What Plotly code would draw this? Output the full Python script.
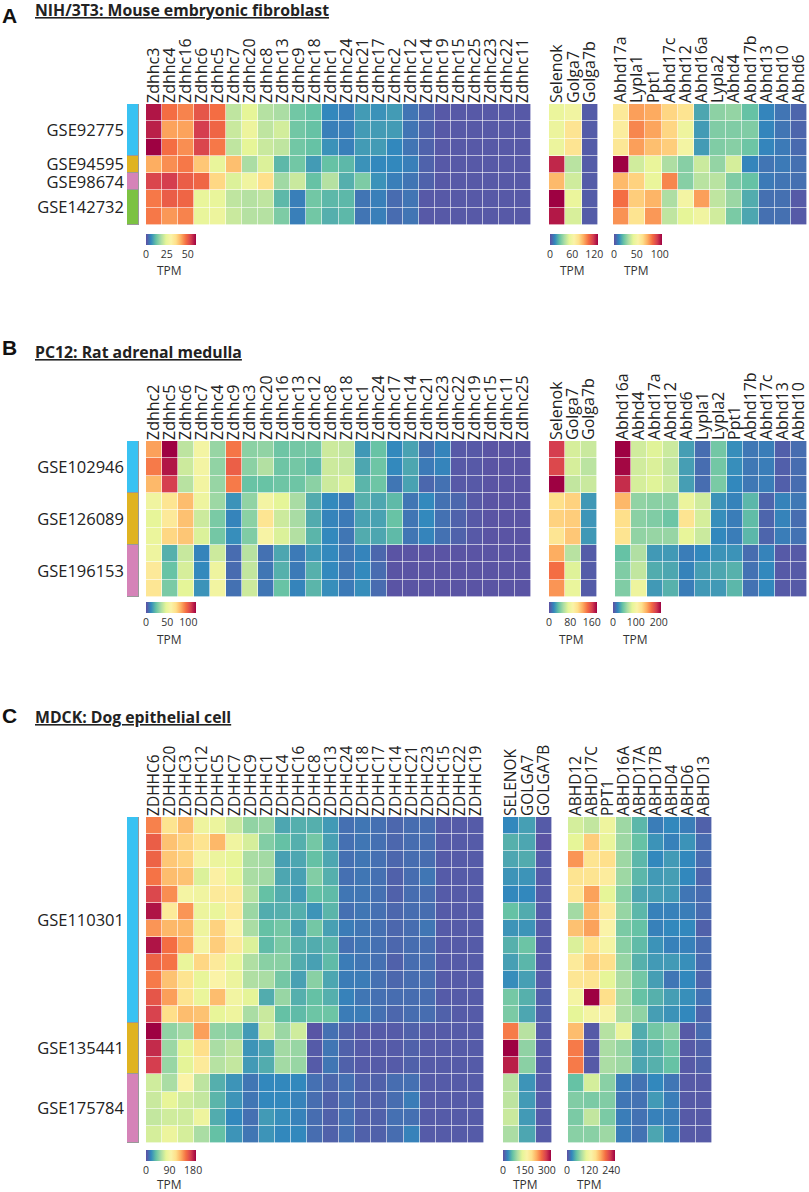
import plotly.graph_objects as go

W, H = 809, 1192
FONT = "Open Sans"
SPECTRAL = ["#5E4FA2", "#3288BD", "#66C2A5", "#ABDDA4", "#E6F598", "#FAF3A8",
            "#FEE08B", "#FDAE61", "#F46D43", "#D53E4F", "#9E0142"]

# ---------- Panel A ----------
A_GROUPS = ["GSE92775", "GSE94595", "GSE98674", "GSE142732"]
A_GROUP_SIZES = [3, 1, 1, 2]
A_ZDHHC_GENES = ["Zdhhc3", "Zdhhc4", "Zdhhc16", "Zdhhc6", "Zdhhc5", "Zdhhc7", "Zdhhc20", "Zdhhc8", "Zdhhc13",
                 "Zdhhc9", "Zdhhc18", "Zdhhc1", "Zdhhc24", "Zdhhc21", "Zdhhc17", "Zdhhc2", "Zdhhc12", "Zdhhc14",
                 "Zdhhc19", "Zdhhc15", "Zdhhc25", "Zdhhc23", "Zdhhc22", "Zdhhc11"]
A_ZDHHC_TPM = [
    [58, 48, 46, 51, 48, 20, 24, 19, 18, 13, 12, 6, 5, 8, 7, 8, 4, 2, 1, 1, 1, 1, 1, 1],
    [57, 43, 43, 54, 49, 21, 26, 20, 22, 13, 12, 5, 5, 8, 8, 8, 4, 2, 1, 1, 1, 1, 1, 1],
    [60, 48, 45, 53, 47, 20, 24, 21, 20, 13, 12, 7, 5, 8, 8, 6, 4, 2, 1, 1, 1, 1, 1, 1],
    [42, 45, 47, 39, 25, 40, 18, 23, 11, 13, 8, 12, 11, 7, 6, 6, 5, 2, 1, 1, 1, 1, 1, 1],
    [53, 54, 50, 49, 37, 23, 27, 36, 17, 21, 12, 19, 10, 14, 7, 5, 4, 2, 1, 1, 1, 1, 1, 1],
    [47, 50, 49, 25, 25, 20, 19, 20, 11, 5, 13, 11, 11, 4, 5, 3, 4, 1, 1, 1, 1, 1, 1, 1],
    [47, 44, 46, 25, 26, 21, 19, 19, 14, 5, 13, 10, 11, 4, 5, 3, 4, 1, 1, 1, 1, 1, 1, 1],
]
A_SEL_GENES = ["Selenok", "Golga7", "Golga7b"]
A_SEL_TPM = [[55, 59, 3], [56, 75, 3], [56, 75, 3], [122, 42, 3], [88, 47, 3], [130, 55, 3], [125, 49, 3]]
A_ABHD_GENES = ["Abhd17a", "Lypla1", "Ppt1", "Abhd17c", "Abhd12", "Abhd16a", "Lypla2", "Abhd4", "Abhd17b",
                "Abhd13", "Abhd10", "Abhd6"]
A_ABHD_TPM = [
    [58, 76, 74, 65, 61, 16, 27, 28, 21, 10, 7, 4],
    [56, 80, 75, 65, 46, 14, 25, 25, 25, 10, 7, 4],
    [59, 76, 70, 67, 49, 14, 25, 26, 22, 10, 8, 5],
    [105, 38, 44, 32, 26, 37, 28, 39, 10, 7, 8, 6],
    [71, 66, 44, 80, 26, 34, 34, 25, 21, 8, 7, 6],
    [84, 67, 72, 32, 49, 76, 35, 29, 17, 6, 6, 2],
    [78, 61, 77, 35, 42, 47, 38, 24, 16, 6, 6, 2],
]

# ---------- Panel B ----------
B_GROUPS = ["GSE102946", "GSE126089", "GSE196153"]
B_GROUP_SIZES = [3, 3, 3]
B_ZDHHC_GENES = ["Zdhhc2", "Zdhhc5", "Zdhhc6", "Zdhhc7", "Zdhhc4", "Zdhhc9", "Zdhhc3", "Zdhhc20", "Zdhhc16",
                 "Zdhhc13", "Zdhhc12", "Zdhhc8", "Zdhhc18", "Zdhhc1", "Zdhhc24", "Zdhhc17", "Zdhhc14", "Zdhhc21",
                 "Zdhhc23", "Zdhhc22", "Zdhhc19", "Zdhhc15", "Zdhhc11", "Zdhhc25"]
B_ZDHHC_TPM = [
    [85, 118, 39, 55, 32, 93, 30, 31, 25, 26, 26, 42, 40, 15, 24, 12, 17, 7, 11, 2, 2, 1, 1, 1],
    [92, 114, 42, 55, 31, 98, 30, 37, 25, 26, 22, 42, 41, 18, 25, 12, 18, 9, 11, 2, 2, 1, 1, 1],
    [80, 106, 38, 54, 32, 92, 24, 24, 25, 25, 30, 42, 45, 21, 25, 8, 17, 5, 7, 2, 2, 1, 1, 1],
    [53, 68, 79, 52, 33, 14, 31, 55, 47, 35, 19, 12, 9, 20, 18, 22, 8, 12, 7, 5, 2, 1, 1, 1],
    [48, 65, 78, 42, 27, 11, 30, 68, 42, 35, 19, 11, 9, 17, 17, 24, 8, 12, 7, 4, 2, 1, 1, 1],
    [50, 73, 77, 45, 26, 13, 28, 57, 45, 37, 21, 12, 8, 19, 18, 22, 8, 11, 7, 4, 2, 1, 1, 1],
    [52, 20, 41, 11, 42, 6, 38, 7, 18, 9, 15, 12, 8, 11, 5, 1, 1, 1, 1, 1, 1, 1, 1, 1],
    [65, 24, 44, 12, 52, 6, 40, 8, 20, 9, 20, 12, 8, 12, 6, 1, 1, 1, 1, 1, 1, 1, 1, 1],
    [67, 27, 47, 14, 54, 7, 42, 8, 24, 11, 21, 13, 9, 13, 6, 1, 1, 1, 1, 1, 1, 1, 1, 1],
]
B_SEL_GENES = ["Selenok", "Golga7", "Golga7b"]
B_SEL_TPM = [[162, 67, 63], [158, 67, 59], [180, 61, 63], [108, 113, 23], [113, 115, 22], [103, 117, 23],
             [126, 58, 4], [144, 70, 4], [133, 76, 4]]
B_ABHD_GENES = ["Abhd16a", "Abhd4", "Abhd17a", "Abhd12", "Abhd6", "Lypla1", "Lypla2", "Ppt1", "Abhd17b",
                "Abhd17c", "Abhd13", "Abhd10"]
B_ABHD_TPM = [
    [210, 76, 82, 74, 29, 11, 46, 23, 15, 17, 6, 11],
    [208, 76, 80, 71, 29, 11, 46, 23, 15, 17, 6, 11],
    [195, 78, 82, 74, 29, 11, 48, 21, 15, 17, 6, 11],
    [143, 55, 53, 53, 90, 76, 25, 19, 38, 8, 19, 15],
    [126, 53, 50, 44, 122, 78, 23, 17, 40, 8, 19, 11],
    [122, 55, 57, 57, 86, 74, 21, 17, 38, 8, 17, 13],
    [42, 65, 27, 27, 17, 21, 25, 25, 11, 19, 4, 4],
    [50, 71, 34, 32, 19, 29, 32, 36, 13, 21, 4, 4],
    [50, 92, 27, 36, 17, 27, 27, 38, 13, 21, 4, 4],
]

# ---------- Panel C ----------
C_GROUPS = ["GSE110301", "GSE135441", "GSE175784"]
C_GROUP_SIZES = [12, 3, 4]
C_ZDHHC_GENES = ["ZDHHC6", "ZDHHC20", "ZDHHC3", "ZDHHC12", "ZDHHC5", "ZDHHC7", "ZDHHC9", "ZDHHC1", "ZDHHC4",
                 "ZDHHC16", "ZDHHC8", "ZDHHC13", "ZDHHC24", "ZDHHC18", "ZDHHC17", "ZDHHC14", "ZDHHC21", "ZDHHC23",
                 "ZDHHC15", "ZDHHC22", "ZDHHC19"]
C_ZDHHC_TPM = [
    [147, 111, 128, 84, 82, 67, 50, 52, 29, 32, 32, 25, 11, 13, 11, 8, 10, 10, 4, 4, 4],
    [159, 126, 120, 111, 130, 86, 71, 46, 38, 32, 42, 27, 11, 13, 11, 8, 10, 10, 4, 4, 4],
    [157, 124, 120, 90, 82, 78, 57, 55, 27, 29, 38, 29, 11, 13, 11, 8, 10, 10, 4, 4, 4],
    [151, 128, 126, 73, 99, 78, 57, 55, 29, 27, 46, 32, 11, 13, 11, 6, 10, 13, 4, 4, 4],
    [168, 143, 90, 86, 105, 105, 61, 38, 31, 25, 38, 36, 13, 13, 11, 6, 10, 10, 4, 4, 4],
    [185, 105, 141, 82, 80, 105, 53, 31, 32, 32, 23, 34, 11, 13, 11, 8, 10, 10, 4, 4, 4],
    [141, 130, 130, 84, 120, 96, 57, 38, 42, 27, 42, 27, 15, 13, 11, 8, 10, 13, 4, 4, 4],
    [185, 153, 134, 90, 122, 105, 73, 36, 44, 32, 31, 34, 11, 13, 11, 8, 10, 10, 4, 4, 4],
    [157, 151, 80, 118, 105, 80, 59, 48, 48, 31, 27, 36, 15, 13, 11, 6, 10, 10, 4, 4, 4],
    [149, 126, 111, 78, 96, 82, 59, 57, 42, 27, 48, 29, 15, 15, 11, 8, 10, 10, 4, 4, 4],
    [162, 138, 111, 80, 128, 88, 76, 31, 52, 32, 38, 32, 17, 13, 11, 10, 10, 10, 4, 4, 4],
    [170, 115, 128, 126, 78, 84, 57, 67, 38, 36, 40, 40, 15, 15, 11, 8, 10, 10, 6, 4, 4],
    [191, 50, 55, 138, 50, 48, 25, 69, 53, 69, 2, 11, 6, 4, 4, 4, 6, 4, 4, 4, 4],
    [178, 53, 76, 115, 57, 63, 23, 29, 55, 52, 4, 13, 6, 4, 4, 4, 6, 4, 4, 4, 4],
    [172, 52, 76, 105, 61, 65, 25, 31, 55, 52, 4, 13, 6, 4, 4, 4, 6, 4, 4, 4, 4],
    [69, 57, 96, 63, 32, 23, 13, 19, 19, 19, 11, 8, 11, 6, 6, 10, 11, 4, 4, 4, 4],
    [67, 78, 69, 65, 34, 23, 13, 19, 19, 17, 10, 6, 10, 6, 6, 10, 15, 4, 4, 4, 4],
    [65, 69, 69, 84, 31, 19, 11, 25, 21, 17, 10, 6, 11, 6, 6, 11, 11, 4, 4, 4, 4],
    [71, 82, 71, 57, 38, 23, 13, 23, 19, 19, 10, 6, 11, 6, 6, 10, 17, 4, 4, 4, 4],
]
C_SEL_GENES = ["SELENOK", "GOLGA7", "GOLGA7B"]
C_SEL_TPM = [[33, 46, 7], [56, 50, 3], [50, 53, 7], [40, 40, 7], [33, 33, 7], [66, 53, 7], [40, 40, 7], [56, 69, 7],
             [46, 59, 7], [36, 46, 7], [73, 56, 10], [76, 50, 10], [257, 106, 7], [330, 86, 7], [314, 83, 7],
             [106, 40, 7], [109, 43, 7], [116, 43, 7], [99, 50, 7]]
C_ABHD_GENES = ["ABHD12", "ABHD17C", "PPT1", "ABHD16A", "ABHD17A", "ABHD17B", "ABHD4", "ABHD6", "ABHD13"]
C_ABHD_TPM = [
    [96, 88, 114, 73, 47, 21, 26, 21, 8],
    [104, 166, 109, 73, 52, 31, 23, 31, 13],
    [192, 151, 156, 73, 47, 26, 34, 26, 13],
    [151, 151, 140, 73, 47, 34, 36, 26, 10],
    [148, 187, 104, 65, 39, 36, 34, 18, 13],
    [75, 177, 143, 70, 47, 23, 23, 21, 13],
    [172, 187, 130, 60, 52, 23, 26, 26, 8],
    [99, 156, 122, 65, 49, 31, 23, 23, 13],
    [143, 166, 156, 70, 44, 34, 34, 29, 13],
    [148, 151, 104, 78, 57, 36, 18, 26, 10],
    [122, 260, 156, 78, 52, 44, 36, 29, 16],
    [104, 122, 125, 78, 68, 36, 31, 26, 10],
    [174, 5, 83, 112, 42, 57, 65, 5, 13],
    [203, 5, 78, 70, 39, 44, 55, 5, 8],
    [203, 5, 78, 73, 39, 44, 52, 5, 8],
    [52, 96, 65, 21, 16, 26, 18, 5, 5],
    [62, 60, 62, 18, 16, 34, 21, 5, 5],
    [60, 88, 60, 21, 16, 23, 21, 5, 5],
    [65, 65, 73, 21, 16, 39, 23, 5, 5],
]

GROUP_COLORS = ["#39C2F2", "#E0B322", "#D583B8", "#7CC242"]

# (pixel layout) each panel: y range; each heatmap: x range, colour max, colourbar ticks, bar x & length
PANELS = [
    dict(letter="A", title="NIH/3T3: Mouse embryonic fibroblast", tx=33, ty=10, ly=16, y0=104, y1=225,
         groups=A_GROUPS, sizes=A_GROUP_SIZES, cb_y=233.5, tpm_y=270, fs=16,
         maps=[(A_ZDHHC_GENES, A_ZDHHC_TPM, 146, 531, 60, [0, 25, 50], 146, 50),
               (A_SEL_GENES, A_SEL_TPM, 549, 598, 130, [0, 60, 120], 550, 48),
               (A_ABHD_GENES, A_ABHD_TPM, 613, 807, 105, [0, 50, 100], 614, 48)]),
    dict(letter="B", title="PC12: Rat adrenal medulla", tx=33, ty=352, ly=347, y0=441, y1=597,
         groups=B_GROUPS, sizes=B_GROUP_SIZES, cb_y=602, tpm_y=639, fs=16,
         maps=[(B_ZDHHC_GENES, B_ZDHHC_TPM, 146, 531, 118, [0, 50, 100], 146, 50),
               (B_SEL_GENES, B_SEL_TPM, 549, 597, 180, [0, 80, 160], 549, 48),
               (B_ABHD_GENES, B_ABHD_TPM, 615, 807, 210, [0, 100, 200], 613, 48)]),
    dict(letter="C", title="MDCK: Dog epithelial cell", tx=33, ty=717, ly=715, y0=817, y1=1143,
         groups=C_GROUPS, sizes=C_GROUP_SIZES, cb_y=1149.5, tpm_y=1184, fs=15.5,
         maps=[(C_ZDHHC_GENES, C_ZDHHC_TPM, 146, 484, 191, [0, 90, 180], 146, 50),
               (C_SEL_GENES, C_SEL_TPM, 503, 552, 330, [0, 150, 300], 503, 48),
               (C_ABHD_GENES, C_ABHD_TPM, 568, 712, 260, [0, 120, 240], 567, 48)]),
]

fig = go.Figure()
layout = {}
annotations = []
ax = 0


def px_x(v):
    return v / W


def px_y(v):
    return 1 - v / H


for p in PANELS:
    annotations.append(dict(text=f"<b>{p['letter']}</b>", x=px_x(0), y=px_y(p["ly"]), xref="paper", yref="paper",
                            xanchor="left", yanchor="middle", showarrow=False,
                            font=dict(family="Liberation Sans", size=21, color="#111")))
    annotations.append(dict(text=f"<b><u>{p['title']}</u></b>", x=px_x(p["tx"]), y=px_y(p["ty"]), xref="paper",
                            yref="paper", xanchor="left", yanchor="middle", showarrow=False,
                            font=dict(family=FONT, size=15.8, color="#222")))
    # group strip: stacked bar on its own axes, group names as tick labels
    ax += 1
    n = sum(p["sizes"])
    mids, acc = [], 0
    for s in p["sizes"]:
        mids.append(acc + s / 2)
        acc += s
    for i, (g, s) in enumerate(zip(p["groups"], p["sizes"])):
        fig.add_bar(x=[""], y=[s], name=g, xaxis=f"x{ax}", yaxis=f"y{ax}", showlegend=False, hoverinfo="name",
                    marker=dict(color=GROUP_COLORS[i], line=dict(color="#999999", width=1.2)))
    layout[f"xaxis{ax}"] = dict(domain=[px_x(127), px_x(139)], anchor=f"y{ax}", visible=False)
    layout[f"yaxis{ax}"] = dict(domain=[px_y(p["y1"]), px_y(p["y0"])], anchor=f"x{ax}", range=[n, 0],
                                tickmode="array", tickvals=mids, ticktext=p["groups"], ticks="", showgrid=False,
                                zeroline=False, showline=False, ticklabelstandoff=2,
                                tickfont=dict(family=FONT, size=16.5, color="#222"))
    for genes, tpm, x0, x1, zmax, ticks, cbx, cblen in p["maps"]:
        ax += 1
        fig.add_heatmap(z=tpm, x=genes, y=list(range(len(tpm))), xaxis=f"x{ax}", yaxis=f"y{ax}", zmin=0, zmax=zmax,
                        xgap=0.6, ygap=0.6, colorscale=SPECTRAL, hovertemplate="%{x}: %{z} TPM<extra></extra>",
                        colorbar=dict(orientation="h", x=px_x(cbx), xanchor="left", y=px_y(p["cb_y"]), yanchor="top",
                                      lenmode="pixels", len=cblen, thicknessmode="pixels", thickness=11, xpad=0,
                                      ypad=0, outlinewidth=0, ticks="", tickvals=ticks, tickangle=0,
                                      tickfont=dict(family=FONT, size=10.5, color="#333")))
        annotations.append(dict(text="TPM", x=px_x(cbx + cblen / 2 - 2), y=px_y(p["tpm_y"]), xref="paper",
                                yref="paper", xanchor="center", yanchor="middle", showarrow=False,
                                font=dict(family=FONT, size=12, color="#333")))
        layout[f"xaxis{ax}"] = dict(domain=[px_x(x0), px_x(x1)], anchor=f"y{ax}", side="top", type="category",
                                    tickangle=-90, ticks="", showgrid=False, zeroline=False, showline=False,
                                    tickfont=dict(family=FONT, size=p["fs"], color="#222"), dtick=1)
        layout[f"yaxis{ax}"] = dict(domain=[px_y(p["y1"]), px_y(p["y0"])], anchor=f"x{ax}",
                                    range=[len(tpm) - 0.5, -0.5], showticklabels=False, ticks="", showgrid=False,
                                    zeroline=False, showline=False)

fig.update_layout(width=W, height=H, margin=dict(l=0, r=0, t=0, b=0, autoexpand=False), autosize=False,
                  paper_bgcolor="white", plot_bgcolor="white", barmode="stack", bargap=0, annotations=annotations,
                  showlegend=False, **layout)
fig.write_html("out.html", config=dict(displayModeBar=False),
               post_script="document.body.style.margin='0';document.body.style.overflow='hidden';")
